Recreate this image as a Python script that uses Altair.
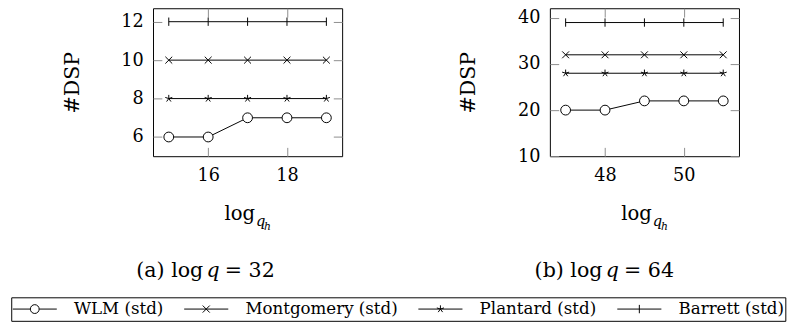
import altair as alt
import pandas as pd

# ---------------- data ----------------
series = ["WLM (std)", "Montgomery (std)", "Plantard (std)", "Barrett (std)"]

a_x = [15, 16, 17, 18, 19]
a_wlm = [6, 6, 7, 7, 7]
a_mont = [10, 10, 10, 10, 10]
a_plan = [8, 8, 8, 8, 8]
a_barr = [12, 12, 12, 12, 12]
a_xticks = [16, 18]
a_yticks = [6, 8, 10, 12]
a_xdom = [14.6, 19.4]
a_ydom = [5.0, 12.7]

b_x = [47, 48, 49, 50, 51]
b_wlm = [20, 20, 22, 22, 22]
b_mont = [32, 32, 32, 32, 32]
b_plan = [28, 28, 28, 28, 28]
b_barr = [39, 39, 39, 39, 39]
b_xticks = [48, 50]
b_yticks = [10, 20, 30, 40]
b_xdom = [46.6, 51.4]
b_ydom = [10.0, 42.1]

cap_prefix = ["(a) log", "(b) log"]
cap_var = ["q", "q"]
cap_suffix = ["= 32", "= 64"]
x_title = "log"
x_sub1 = "q"
x_sub2 = "h"
y_title = "#DSP"

# ---------------- styles ----------------
FONT = "DejaVu Serif"
TICK = "#8c8c8c"
W, H = 193, 151

marker_paths = [
    "circle",
    "M-0.7,-0.7L0.7,0.7M-0.7,0.7L0.7,-0.7",
    "M0,0L0,-0.75M0,0L0.713,-0.232M0,0L0.441,0.607M0,0L-0.441,0.607M0,0L-0.713,-0.232",
    "M0,-0.85L0,0.85",
]
legend_paths = [
    "M-1,0L-0.2,0M0.2,0L1,0M0.2,0A0.2,0.2,0,1,1,-0.2,0A0.2,0.2,0,1,1,0.2,0",
    "M-1,0L1,0M-0.16,-0.16L0.16,0.16M-0.16,0.16L0.16,-0.16",
    "M-1,0L1,0M0,0L0,-0.17M0,0L0.162,-0.053M0,0L0.1,0.138M0,0L-0.1,0.138M0,0L-0.162,-0.053",
    "M-1,0L1,0M0,-0.19L0,0.19",
]


def make_df(xs, ys_list):
    rows = []
    for name, ys in zip(series, ys_list):
        for xv, yv in zip(xs, ys):
            rows.append({"series": name, "x": xv, "y": yv})
    return pd.DataFrame(rows)


def panel(df, xdom, ydom, xticks, yticks, idx, with_legend):
    xs = alt.Scale(domain=xdom, nice=False, zero=False)
    ys = alt.Scale(domain=ydom, nice=False, zero=False)
    tick_common = dict(tickSize=9, tickColor=TICK, tickWidth=1, offset=-9,
                       domain=False, grid=False, labelFlush=False, labelOverlap=False)
    x_bottom = alt.X("x:Q", scale=xs, axis=alt.Axis(
        orient="bottom", values=xticks, labelPadding=11, labelFont=FONT,
        labelFontSize=18, labelColor="black", title=x_title, titleFont=FONT,
        titleFontSize=20, titleFontWeight="normal", titleColor="black",
        titleX=88, titleY=74, titleAlign="center", titleBaseline="alphabetic",
        **tick_common))
    y_left = alt.Y("y:Q", scale=ys, axis=alt.Axis(
        orient="left", values=yticks, labelPadding=10, labelFont=FONT,
        labelFontSize=18, labelColor="black", title=y_title, titleFont=FONT,
        titleFontSize=21, titleFontWeight="normal", titleColor="black",
        titleAngle=270, titleX=-91.5, titleY=H / 2, titleAlign="center",
        titleBaseline="middle", **tick_common))
    x_top = alt.X("x:Q", scale=xs, axis=alt.Axis(
        orient="top", values=xticks, labels=False, title=None, **tick_common))
    y_right = alt.Y("y:Q", scale=ys, axis=alt.Axis(
        orient="right", values=yticks, labels=False, title=None, **tick_common))

    base = alt.Chart(df)
    line = base.mark_line(color="black", strokeWidth=1).encode(
        x=x_bottom, y=y_left, detail="series:N")
    pts = base.mark_point(filled=True, fill="white", stroke="black",
                          strokeWidth=1, opacity=1, size=100).encode(
        x=x_top, y=y_right,
        shape=alt.Shape("series:N", scale=alt.Scale(domain=series, range=marker_paths),
                        legend=None))

    def txt(s, x, y, size, align, style="normal"):
        return alt.Chart(pd.DataFrame({"t": [s]})).mark_text(
            font=FONT, fontSize=size, fontStyle=style, color="black",
            align=align, baseline="alphabetic").encode(
            text="t:N", x=alt.value(x), y=alt.value(y))

    off = 0 if idx == 0 else 2.4
    layers = [line, pts,
              txt(x_sub1, 105, 222, 15, "left", "italic"),
              txt(x_sub2, 113.3, 226, 11, "left", "italic"),
              txt(cap_prefix[idx], 51.3 + off, 274, 21, "right"),
              txt(cap_var[idx], 61.3 + off, 274, 21, "center", "italic"),
              txt(cap_suffix[idx], 73.3 + off, 274, 21, "left")]
    if with_legend:
        leg = alt.Chart(df).transform_filter("false").mark_point(
            color="black", strokeWidth=1).encode(
            shape=alt.Shape("series:N",
                            scale=alt.Scale(domain=series, range=legend_paths),
                            legend=alt.Legend(
                                orient="none", legendX=-144.7, legendY=295,
                                direction="horizontal", title=None,
                                strokeColor="black", fillColor="white", padding=1,
                                columnPadding=20, labelOffset=17, symbolSize=2025,
                                clipHeight=22, labelFont=FONT, labelFontSize=17,
                                labelColor="black", labelLimit=400,
                                symbolStrokeWidth=1, symbolStrokeColor="black",
                                symbolFillColor="white", symbolOpacity=1)))
        layers.append(leg)
    return alt.layer(*layers).resolve_scale(shape="independent").properties(
        width=W, height=H)


df_a = make_df(a_x, [a_wlm, a_mont, a_plan, a_barr])
df_b = make_df(b_x, [b_wlm, b_mont, b_plan, b_barr])

left = panel(df_a, a_xdom, a_ydom, a_xticks, a_yticks, 0, True)
right = panel(df_b, b_xdom, b_ydom, b_xticks, b_yticks, 1, False)

chart = alt.hconcat(left, right, spacing=212, bounds="flush").resolve_scale(
    shape="independent").resolve_legend(shape="independent").properties(
    padding={"left": 2, "top": -4, "right": 0, "bottom": 0},
    background="white").configure_view(stroke="black", strokeWidth=1)

chart.save("out.html", embed_options={"renderer": "svg", "actions": False})
